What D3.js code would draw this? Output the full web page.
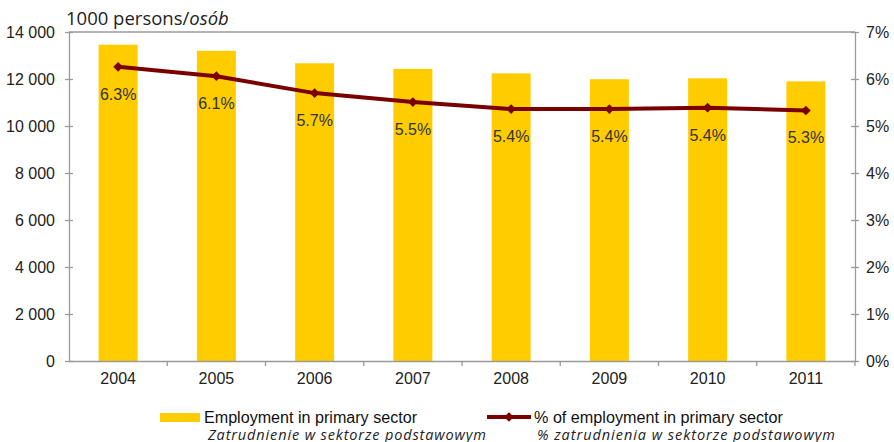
<!DOCTYPE html>
<html>
<head>
<meta charset="utf-8">
<script src="https://cdn.jsdelivr.net/npm/d3@7/dist/d3.min.js"></script>
<style>
  html, body { margin: 0; padding: 0; background: #fff; }
  svg { display: block; }
</style>
</head>
<body>
<svg id="chart" width="894" height="442"></svg>
<script>
// Employment in the primary sector, 2004–2011
const years = ["2004", "2005", "2006", "2007", "2008", "2009", "2010", "2011"];
const employment = [13460, 13200, 12670, 12430, 12240, 11990, 12030, 11900];   // 1000 persons
const sharePct = [6.26, 6.06, 5.70, 5.51, 5.36, 5.36, 5.39, 5.33];             // % of total employment
const leftTicks = [0, 2000, 4000, 6000, 8000, 10000, 12000, 14000];
const rightTicks = [0, 1, 2, 3, 4, 5, 6, 7];

const svg = d3.select("#chart");
const m = { left: 69, right: 855, top: 32, bottom: 361 };
const axisColor = "#9a9a9a";
const textColor = "#222";
const font = "Arial, 'Liberation Sans', sans-serif";
const fontSize = 16;

const xBand = d3.scaleBand().domain(years).range([m.left, m.right]);
const yL = d3.scaleLinear().domain([0, 14000]).range([m.bottom, m.top]);
const yR = d3.scaleLinear().domain([0, 7]).range([m.bottom, m.top]);
const cx = (d) => xBand(d) + xBand.bandwidth() / 2;
const barWidth = 39;

// Bars
svg.append("g").selectAll("rect").data(years).join("rect")
  .attr("x", (d) => cx(d) - barWidth / 2)
  .attr("width", barWidth)
  .attr("y", (d, i) => yL(employment[i]))
  .attr("height", (d, i) => yL(0) - yL(employment[i]))
  .attr("fill", "#FFCC00");

// Top border
svg.append("line")
  .attr("x1", m.left).attr("x2", m.right)
  .attr("y1", m.top).attr("y2", m.top)
  .attr("stroke", axisColor).attr("stroke-width", 1.3);

// Left axis
const fmtSpace = (v) => d3.format(",")(v).replace(/,/g, " ");
const gl = svg.append("g").attr("transform", `translate(${m.left},0)`)
  .call(d3.axisLeft(yL).tickValues(leftTicks).tickSize(0).tickPadding(14).tickFormat(fmtSpace));
gl.select(".domain").attr("stroke", axisColor).attr("stroke-width", 1.3);
gl.selectAll(".tick text").attr("font-family", font).attr("font-size", fontSize).attr("fill", textColor);
gl.selectAll(".tick").append("line").attr("x1", -4).attr("x2", 4).attr("stroke", axisColor).attr("stroke-width", 1.3);

// Right axis
const gr = svg.append("g").attr("transform", `translate(${m.right},0)`)
  .call(d3.axisRight(yR).tickValues(rightTicks).tickSize(0).tickPadding(11).tickFormat((v) => v + "%"));
gr.select(".domain").attr("stroke", axisColor).attr("stroke-width", 1.3);
gr.selectAll(".tick text").attr("font-family", font).attr("font-size", fontSize).attr("fill", textColor);
gr.selectAll(".tick").append("line").attr("x1", -4).attr("x2", 4).attr("stroke", axisColor).attr("stroke-width", 1.3);

// Bottom axis
const gb = svg.append("g").attr("transform", `translate(0,${m.bottom})`)
  .call(d3.axisBottom(xBand).tickSize(0).tickPadding(12));
gb.select(".domain").attr("stroke", axisColor).attr("stroke-width", 1.3);
gb.selectAll(".tick text").attr("font-family", font).attr("font-size", fontSize).attr("fill", textColor);
// category separators on the bottom axis
svg.append("g").selectAll("line").data(years).join("line")
  .attr("x1", (d) => xBand(d) + xBand.step())
  .attr("x2", (d) => xBand(d) + xBand.step())
  .attr("y1", m.bottom).attr("y2", m.bottom + 5)
  .attr("stroke", axisColor).attr("stroke-width", 1.3);

// Share line
const line = d3.line().x((d) => cx(d)).y((d, i) => yR(sharePct[i]));
svg.append("path").datum(years)
  .attr("d", line)
  .attr("fill", "none")
  .attr("stroke", "#7a0000")
  .attr("stroke-width", 4)
  .attr("stroke-linejoin", "round");

const diamond = d3.symbol().type(d3.symbolDiamond2).size(60);
svg.append("g").selectAll("path").data(years).join("path")
  .attr("transform", (d, i) => `translate(${cx(d)},${yR(sharePct[i])})`)
  .attr("d", diamond)
  .attr("fill", "#7a0000");

const fmtPct = d3.format(".1f");
svg.append("g").selectAll("text").data(years).join("text")
  .attr("x", (d) => cx(d))
  .attr("y", (d, i) => yR(sharePct[i]) + 33)
  .attr("text-anchor", "middle")
  .attr("font-family", font).attr("font-size", fontSize).attr("fill", "#333")
  .text((d, i) => fmtPct(sharePct[i]) + "%");

// Unit label
const unit = svg.append("text")
  .attr("x", 66).attr("y", 25)
  .attr("font-family", "'Open Sans', sans-serif").attr("font-size", 18.5).attr("fill", "#222");
unit.append("tspan").text("1000 persons/");
unit.append("tspan").attr("font-style", "italic").text("osób");

// Legend
const lg = svg.append("g");
lg.append("rect").attr("x", 160).attr("y", 413).attr("width", 40).attr("height", 9).attr("fill", "#FFCC00");
lg.append("text").attr("x", 204).attr("y", 423)
  .attr("font-family", font).attr("font-size", 16).attr("fill", "#111")
  .attr("textLength", 213).attr("lengthAdjust", "spacingAndGlyphs")
  .text("Employment in primary sector");
lg.append("text").attr("x", 208).attr("y", 439.5)
  .attr("font-family", "'Open Sans', sans-serif").attr("font-style", "italic").attr("font-size", 14.5).attr("fill", "#222")
  .attr("textLength", 278).attr("lengthAdjust", "spacing")
  .text("Zatrudnienie w sektorze podstawowym");

lg.append("line").attr("x1", 487).attr("x2", 531).attr("y1", 417).attr("y2", 417)
  .attr("stroke", "#7a0000").attr("stroke-width", 4);
lg.append("path").attr("transform", "translate(509,417)").attr("d", diamond).attr("fill", "#7a0000");
lg.append("text").attr("x", 534).attr("y", 423)
  .attr("font-family", font).attr("font-size", 16).attr("fill", "#111")
  .attr("textLength", 249).attr("lengthAdjust", "spacingAndGlyphs")
  .text("% of employment in primary sector");
lg.append("text").attr("x", 537).attr("y", 439.5)
  .attr("font-family", "'Open Sans', sans-serif").attr("font-style", "italic").attr("font-size", 14.5).attr("fill", "#222")
  .attr("textLength", 298).attr("lengthAdjust", "spacing")
  .text("% zatrudnienia w sektorze podstawowym");
</script>
</body>
</html>
